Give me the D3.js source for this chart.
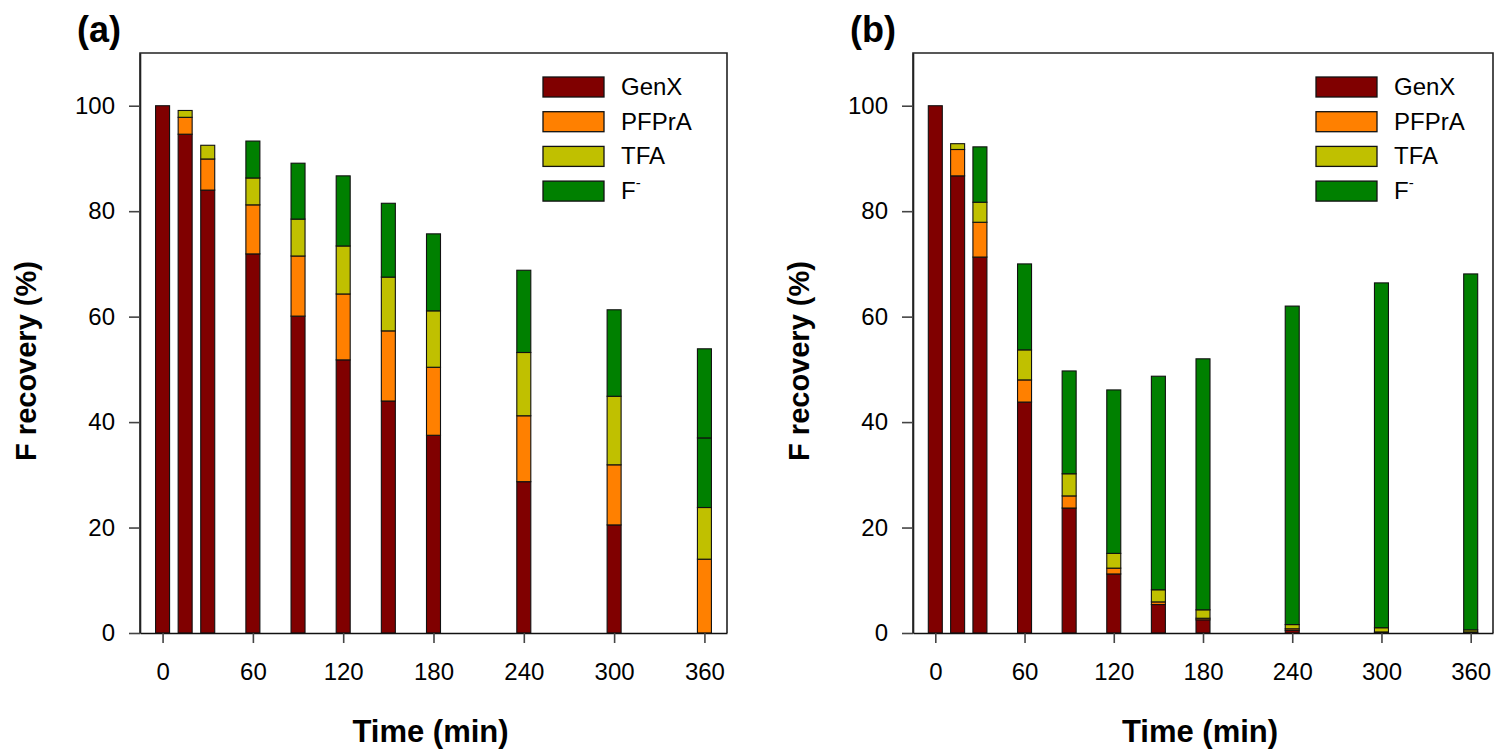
<!DOCTYPE html>
<html>
<head>
<meta charset="utf-8">
<script src="https://cdn.jsdelivr.net/npm/d3@7"></script>
<style>
  body { margin: 0; background: #fff; }
  svg { display: block; font-family: Arial, "Liberation Sans", sans-serif; }
</style>
</head>
<body>
<svg id="chart" width="1495" height="750"></svg>
<script>
// ---------- DATA ----------
const times = [0, 15, 30, 60, 90, 120, 150, 180, 240, 300, 360];
const xTicks = [0, 60, 120, 180, 240, 300, 360];
const yTicks = [0, 20, 40, 60, 80, 100];
const seriesNames = ["GenX", "PFPrA", "TFA", "F-"];
const seriesColors = ["#800000", "#FF8000", "#C0C000", "#008000"];

// Panel (a)
const genxA  = [100, 94.6, 84.0, 71.9, 60.1, 51.8, 44.0, 37.5, 28.7, 20.5, 0];
const pfprA  = [0, 3.2, 5.9, 9.3, 11.4, 12.5, 13.3, 12.9, 12.5, 11.4, 14.0];
const tfaA   = [0, 1.3, 2.6, 5.1, 7.0, 9.1, 10.2, 10.7, 12.0, 13.0, 9.8];
const fA     = [0, 0, 0, 7.0, 10.6, 13.3, 14.0, 14.6, 15.6, 16.4, 13.2];
const fA2    = [0, 0, 0, 0, 0, 0, 0, 0, 0, 0, 16.9];   // second F- segment drawn at 360 min

// Panel (b)
const genxB  = [100, 86.7, 71.3, 43.8, 23.7, 11.2, 5.4, 2.5, 0.5, 0.1, 0.1];
const pfprB  = [0, 5.0, 6.6, 4.2, 2.3, 1.1, 0.5, 0.3, 0.3, 0.1, 0.1];
const tfaB   = [0, 1.1, 3.8, 5.7, 4.2, 2.8, 2.3, 1.6, 0.8, 0.8, 0.4];
const fB     = [0, 0, 10.5, 16.3, 19.5, 31.0, 40.5, 47.6, 60.4, 65.4, 67.5];

// ---------- DRAW ----------
const svg = d3.select("#chart");
const yTop = 53, yBot = 633;

function panel(cfg) {
  const x = d3.scaleLinear().domain([-15, 375]).range([cfg.left, cfg.right]);
  const y = d3.scaleLinear().domain([0, 110]).range([yBot, yTop]);
  const g = svg.append("g");
  const barW = 14;

  // bars
  times.forEach((t, i) => {
    let base = 0;
    cfg.stacks.forEach(s => {
      const v = s.values[i];
      if (v > 0) {
        g.append("rect")
          .attr("x", x(t) - barW / 2)
          .attr("y", y(base + v))
          .attr("width", barW)
          .attr("height", y(base) - y(base + v))
          .attr("fill", s.color)
          .attr("stroke", "#111")
          .attr("stroke-width", 1.1);
      }
      base += v;
    });
  });

  // frame (top, right, left)
  g.append("path")
    .attr("d", `M${cfg.left},${yBot}V${yTop}H${cfg.right}V${yBot}`)
    .attr("fill", "none").attr("stroke", "#222").attr("stroke-width", 1.6);

  // y axis
  const ya = g.append("g").attr("transform", `translate(${cfg.left},0)`)
    .call(d3.axisLeft(y).tickValues(yTicks).tickSize(11).tickSizeOuter(0).tickPadding(14));
  ya.select(".domain").attr("stroke", "#222").attr("stroke-width", 1.6);
  ya.selectAll(".tick line").attr("stroke", "#444").attr("stroke-width", 1.6);
  ya.selectAll(".tick text").attr("font-size", 24).attr("fill", "#000")
    .attr("font-family", "Arial, 'Liberation Sans', sans-serif");

  // x axis
  const xa = g.append("g").attr("transform", `translate(0,${yBot})`)
    .call(d3.axisBottom(x).tickValues(xTicks).tickSize(10).tickSizeOuter(0).tickPadding(20));
  xa.select(".domain").attr("stroke", "#111").attr("stroke-width", 1.6);
  xa.selectAll(".tick line").attr("stroke", "#444").attr("stroke-width", 1.6);
  xa.selectAll(".tick text").attr("font-size", 24).attr("fill", "#000")
    .attr("font-family", "Arial, 'Liberation Sans', sans-serif");

  // axis titles
  g.append("text")
    .attr("x", (cfg.left + cfg.right) / 2 - 3).attr("y", 742)
    .attr("text-anchor", "middle").attr("font-size", 31).attr("font-weight", "bold")
    .text("Time (min)");
  g.append("text")
    .attr("transform", `translate(${cfg.left - 104},${(yTop + yBot) / 2 + 18}) rotate(-90)`)
    .attr("text-anchor", "middle").attr("font-size", 29).attr("font-weight", "bold")
    .text("F recovery (%)");

  // panel label
  g.append("text")
    .attr("x", cfg.left - 63).attr("y", 42)
    .attr("font-size", 36).attr("font-weight", "bold")
    .text(cfg.label);

  // legend
  const lg = g.append("g").attr("transform", `translate(${cfg.left + 403},77)`);
  seriesNames.forEach((name, i) => {
    lg.append("rect")
      .attr("x", 0).attr("y", i * 34.7)
      .attr("width", 61).attr("height", 20)
      .attr("fill", seriesColors[i]).attr("stroke", "#111").attr("stroke-width", 1.3);
    const tx = lg.append("text")
      .attr("x", 78).attr("y", i * 34.7 + 18)
      .attr("font-size", 24).attr("fill", "#000");
    if (name === "F-") {
      tx.append("tspan").text("F");
      tx.append("tspan").attr("dy", -11).attr("font-size", 15).text("-");
    } else {
      tx.text(name);
    }
  });
}

panel({
  left: 140, right: 727, label: "(a)",
  stacks: [
    { values: genxA, color: seriesColors[0] },
    { values: pfprA, color: seriesColors[1] },
    { values: tfaA,  color: seriesColors[2] },
    { values: fA,    color: seriesColors[3] },
    { values: fA2,   color: seriesColors[3] }
  ]
});

panel({
  left: 913, right: 1493, label: "(b)",
  stacks: [
    { values: genxB, color: seriesColors[0] },
    { values: pfprB, color: seriesColors[1] },
    { values: tfaB,  color: seriesColors[2] },
    { values: fB,    color: seriesColors[3] }
  ]
});
</script>
</body>
</html>
